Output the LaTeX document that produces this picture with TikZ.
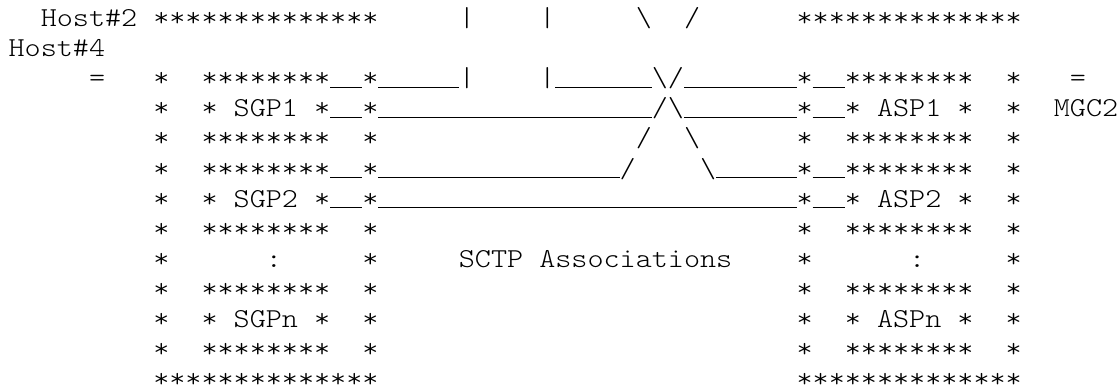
\documentclass[tikz,border=0pt]{standalone}
\usepackage{fontspec}
\newfontfamily\mono{lmmonolt10-regular.otf}[FakeStretch=1.12]
\ExplSyntaxOn
\cs_new:Npn \myrep #1#2 { \prg_replicate:nn {#1} {#2} }
\ExplSyntaxOff
\newlength\cw
\newcommand\sk[1]{\hspace*{#1\cw}}
\newcommand\us[1]{\rule[-1.2pt]{#1\cw}{1.4pt}}
\newcommand\st[1]{\myrep{#1}{*}}
\newcommand\asciifont{\fontsize{27.35}{30}\mono}
\tikzset{ascii/.style={font=\asciifont, anchor=base west, inner sep=0pt, outer sep=0pt}}
\begin{document}
\settowidth\cw{\asciifont M}%
\begin{tikzpicture}[x=1pt,y=1pt]
\fill[white] (0,0) rectangle (1120,-389);
\useasboundingbox (0,0) rectangle (1120,-389);
\def\xo{8.6}
\def\yo{26.7}
\def\lh{30.06}
\node[ascii] (l1) at (\xo,{-\yo-0*\lh}) {\sk{2}Host\#2\sk{1}\st{14}\sk{5}|\sk{4}|\sk{5}\textbackslash\sk{2}/\sk{6}\st{14}};
\node[ascii] (l2) at (\xo,{-\yo-1*\lh}) {Host\#4};
\node[ascii] (l3) at (\xo,{-\yo-2*\lh}) {\sk{5}=\sk{3}*\sk{2}\st{8}\us{2}*\us{5}|\sk{4}|\us{6}\textbackslash/\us{7}*\us{2}\st{8}\sk{2}*\sk{3}=};
\node[ascii] (l4) at (\xo,{-\yo-3*\lh}) {\sk{9}*\sk{2}*\sk{1}SGP1\sk{1}*\us{2}*\us{17}/\textbackslash\us{7}*\us{2}*\sk{1}ASP1\sk{1}*\sk{2}*\sk{2}MGC2};
\node[ascii] (l5) at (\xo,{-\yo-4*\lh}) {\sk{9}*\sk{2}\st{8}\sk{2}*\sk{16}/\sk{2}\textbackslash\sk{6}*\sk{2}\st{8}\sk{2}*};
\node[ascii] (l6) at (\xo,{-\yo-5*\lh}) {\sk{9}*\sk{2}\st{8}\us{2}*\us{15}/\sk{4}\textbackslash\us{5}*\us{2}\st{8}\sk{2}*};
\node[ascii] (l7) at (\xo,{-\yo-6*\lh}) {\sk{9}*\sk{2}*\sk{1}SGP2\sk{1}*\us{2}*\us{26}*\us{2}*\sk{1}ASP2\sk{1}*\sk{2}*};
\node[ascii] (l8) at (\xo,{-\yo-7*\lh}) {\sk{9}*\sk{2}\st{8}\sk{2}*\sk{26}*\sk{2}\st{8}\sk{2}*};
\node[ascii] (l9) at (\xo,{-\yo-8*\lh}) {\sk{9}*\sk{6}:\sk{5}*\sk{5}SCTP\sk{1}Associations\sk{4}*\sk{6}:\sk{5}*};
\node[ascii] (l10) at (\xo,{-\yo-9*\lh}) {\sk{9}*\sk{2}\st{8}\sk{2}*\sk{26}*\sk{2}\st{8}\sk{2}*};
\node[ascii] (l11) at (\xo,{-\yo-10*\lh}) {\sk{9}*\sk{2}*\sk{1}SGPn\sk{1}*\sk{2}*\sk{26}*\sk{2}*\sk{1}ASPn\sk{1}*\sk{2}*};
\node[ascii] (l12) at (\xo,{-\yo-11*\lh}) {\sk{9}*\sk{2}\st{8}\sk{2}*\sk{26}*\sk{2}\st{8}\sk{2}*};
\node[ascii] (l13) at (\xo,{-\yo-12*\lh}) {\sk{9}\st{14}\sk{26}\st{14}};
\end{tikzpicture}
\end{document}
